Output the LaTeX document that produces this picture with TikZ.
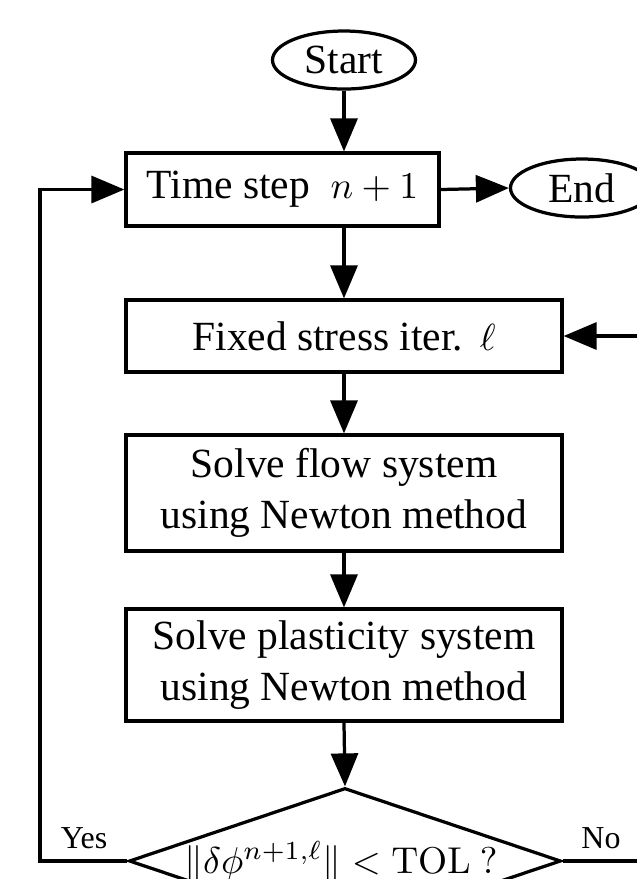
\documentclass[tikz,border=0pt]{standalone}
\usepackage{graphicx}
\usepackage[no-math]{fontspec}
\setmainfont{Liberation Serif}
\usetikzlibrary{shapes.geometric,arrows.meta}
\newcommand{\smath}[1]{\scalebox{0.91}{$#1$}}
\begin{document}
\begin{tikzpicture}[x=0.241pt,y=-0.241pt,
  every node/.style={font=\fontsize{10}{12.3}\selectfont},
  box/.style={draw, line width=0.78pt, rectangle, inner sep=0pt, align=center},
  term/.style={draw, line width=0.78pt, ellipse, inner sep=0pt, minimum width=34.46pt, minimum height=13.98pt},
  dia/.style={draw, line width=0.78pt, diamond, inner sep=0pt, minimum width=104.1pt, minimum height=35.19pt},
  lbl/.style={font=\fontsize{7.7}{9}\selectfont, inner sep=0pt},
  arr/.style={line width=0.78pt, -{Triangle[length=7.95pt,width=6.51pt]}}]
\useasboundingbox (0,0) rectangle (637,879);
\clip (0,0) rectangle (637,879);

\node[term] (start) at (344,60) {Start};
\node[box, minimum width=75.43pt, minimum height=17.59pt] (tbox) at (282.5,189.5) {Time step\hspace{0.5em}\smath{n+1}};
\node[term] (end) at (582,188) {End};
\node[box, minimum width=105.08pt, minimum height=17.35pt] (fbox) at (344,336) {Fixed stress iter.\hspace{0.4em}\smath{\ell}};
\node[box, minimum width=105.08pt, minimum height=27.96pt] (flow) at (344,493) {Solve flow system\\using Newton method};
\node[box, minimum width=105.08pt, minimum height=26.99pt] (plast) at (344,665) {Solve plasticity system\\using Newton method};
\node[dia] (dec) at (345,861) {};
\node[inner sep=0pt, scale=0.9] (dectext) at (341,862) {$\|\delta\phi^{n+1,\ell}\| < \mathrm{TOL}\ ?$};
\node[lbl] (yes) at (84,838) {Yes};
\node[lbl] (no) at (601,838) {No};

\coordinate (lcorner) at (40,861);
\coordinate (rcorner) at (700,861);

\draw[arr] (start.south) -- (start.south |- tbox.north);
\draw[arr] (tbox.east) -- (end.west);
\draw[arr] (fbox.north |- tbox.south) -- (fbox.north);
\draw[arr] (fbox.south) -- (flow.north);
\draw[arr] (flow.south) -- (plast.north);
\draw[arr] (plast.south) -- (dec.north);
\draw[arr] (dec.west) -- (lcorner) |- (tbox.west);
\draw[arr] (dec.east) -- (rcorner) |- (fbox.east);
\end{tikzpicture}
\end{document}
